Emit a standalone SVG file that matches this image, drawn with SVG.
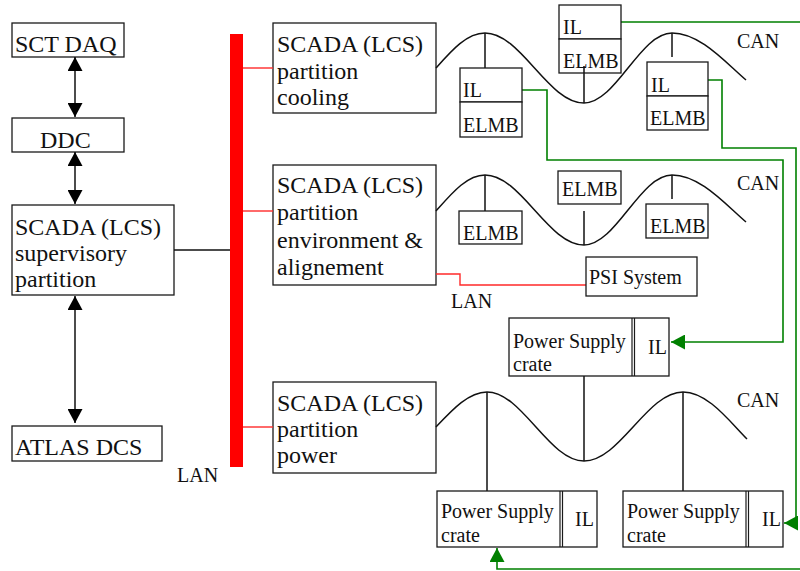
<svg xmlns="http://www.w3.org/2000/svg" width="800" height="571" viewBox="0 0 800 571">
<style>
.box{fill:#fff;stroke:#1a1a1a;stroke-width:1.3}
.t{font-family:"Liberation Serif","Times New Roman",serif;font-size:24px;fill:#111}
.s{font-family:"Liberation Serif","Times New Roman",serif;font-size:20px;fill:#111}
.blk{fill:none;stroke:#111;stroke-width:1.5}
.wave{fill:none;stroke:#111;stroke-width:1.5}
.red{fill:none;stroke:#ff2a2a;stroke-width:1.4}
.grn{fill:none;stroke:#008000;stroke-width:1.6}
.div{stroke:#1a1a1a;stroke-width:1.2}
</style>
<defs>
<marker id="ab" markerUnits="userSpaceOnUse" markerWidth="15" markerHeight="15" refX="14" refY="7.5" orient="auto-start-reverse"><path d="M0,0 L14,7.5 L0,15 z" fill="#000"/></marker>
<marker id="ag" markerUnits="userSpaceOnUse" markerWidth="15" markerHeight="15" refX="14" refY="7.5" orient="auto"><path d="M0,0 L14,7.5 L0,15 z" fill="#008000"/></marker>
</defs>

<rect id="lan-bus" x="230" y="34" width="13" height="433" fill="#ff0000"/>
<text class="s" x="177" y="482">LAN</text>

<g id="sct-daq"><rect class="box" x="12" y="23" width="112" height="34"/><text class="t" x="15" y="52">SCT DAQ</text></g>
<g id="ddc"><rect class="box" x="12" y="118" width="112" height="34"/><text class="t" x="40" y="148">DDC</text></g>
<g id="supervisory"><rect class="box" x="12" y="205" width="162" height="90"/><text class="t" x="15" y="235">SCADA (LCS)</text><text class="t" x="15" y="261">supervisory</text><text class="t" x="15" y="287">partition</text></g>
<g id="atlas-dcs"><rect class="box" x="12" y="426" width="150" height="35"/><text class="t" x="15" y="455">ATLAS DCS</text></g>

<g id="cooling"><rect class="box" x="273" y="23" width="163" height="90"/><text class="t" x="277" y="52">SCADA (LCS)</text><text class="t" x="277" y="79">partition</text><text class="t" x="277" y="105">cooling</text></g>
<g id="environment"><rect class="box" x="273" y="165" width="163" height="120"/><text class="t" x="277" y="193">SCADA (LCS)</text><text class="t" x="277" y="220">partition</text><text class="t" x="277" y="248">environment &amp;</text><text class="t" x="277" y="275">alignement</text></g>
<g id="power"><rect class="box" x="273" y="382" width="163" height="91"/><text class="t" x="277" y="411">SCADA (LCS)</text><text class="t" x="277" y="437">partition</text><text class="t" x="277" y="463">power</text></g>

<g id="connectors">
<line class="blk" x1="75" y1="57" x2="75" y2="117" marker-start="url(#ab)" marker-end="url(#ab)"/>
<line class="blk" x1="75" y1="152" x2="75" y2="204" marker-start="url(#ab)" marker-end="url(#ab)"/>
<line class="blk" x1="75" y1="296" x2="75" y2="423" marker-start="url(#ab)" marker-end="url(#ab)"/>
<line class="blk" x1="174" y1="250" x2="230" y2="250"/>
<line class="red" x1="243" y1="68" x2="273" y2="68"/>
<line class="red" x1="243" y1="211" x2="273" y2="211"/>
<line class="red" x1="243" y1="427" x2="273" y2="427"/>
<path class="red" d="M436,274 H460 V285 H586"/>

<path class="wave" d="M436,68 C452,50 467,33 485,33 C521,33 548,103 584,103 C616,103 640,33 672,33 C700,33 725,62 746,80"/>
<path class="wave" d="M436,211 C452,193 467,175 485,175 C521,175 548,245 584,245 C616,245 640,175 672,175 C700,175 725,204 746,222"/>
<path class="wave" d="M436,427 C453,409 469,392 487,392 C522,392 549,461 584,461 C620,461 647,392 683,392 C708,392 730,422 747,439"/>

<line class="blk" x1="485" y1="33" x2="485" y2="68"/>
<line class="blk" x1="584" y1="66" x2="584" y2="103"/>
<line class="blk" x1="672" y1="33" x2="672" y2="57"/>
<line class="blk" x1="485" y1="175" x2="485" y2="211"/>
<line class="blk" x1="584" y1="211" x2="584" y2="245"/>
<line class="blk" x1="672" y1="175" x2="672" y2="199"/>
<line class="blk" x1="487" y1="392" x2="487" y2="491"/>
<line class="blk" x1="584" y1="376" x2="584" y2="461"/>
<line class="blk" x1="683" y1="392" x2="683" y2="491"/>

<path class="grn" d="M621,22 H803 V569 H497 V548" marker-end="url(#ag)"/>
<path class="grn" d="M522,90 H547 V160 H783 V342 H671" marker-end="url(#ag)"/>
<path class="grn" d="M708,80 H722 V148 H796 V523 H784" marker-end="url(#ag)"/>
</g>

<text class="s" x="737" y="48">CAN</text>
<text class="s" x="737" y="190">CAN</text>
<text class="s" x="737" y="407">CAN</text>
<text class="s" x="451" y="308">LAN</text>

<g id="il-1"><rect class="box" x="460" y="68" width="62" height="34"/><text class="s" x="463" y="97">IL</text></g>
<g id="elmb-1"><rect class="box" x="460" y="102" width="62" height="35"/><text class="s" x="463" y="132">ELMB</text></g>
<g id="il-2"><rect class="box" x="559" y="5" width="62" height="34"/><text class="s" x="563" y="34">IL</text></g>
<g id="elmb-2"><rect class="box" x="559" y="39" width="62" height="34"/><text class="s" x="563" y="68">ELMB</text></g>
<line class="blk" x1="584" y1="66" x2="584" y2="73"/>
<g id="il-3"><rect class="box" x="647" y="62" width="61" height="34"/><text class="s" x="651" y="92">IL</text></g>
<g id="elmb-3"><rect class="box" x="647" y="96" width="61" height="34"/><text class="s" x="650" y="125">ELMB</text></g>

<g id="elmb-4"><rect class="box" x="459" y="211" width="63" height="33"/><text class="s" x="463" y="240">ELMB</text></g>
<g id="elmb-5"><rect class="box" x="558" y="171" width="63" height="33"/><text class="s" x="562" y="196">ELMB</text></g>
<g id="elmb-6"><rect class="box" x="646" y="204" width="62" height="34"/><text class="s" x="650" y="233">ELMB</text></g>
<g id="psi"><rect class="box" x="586" y="257" width="111" height="39"/><text class="s" x="589" y="284">PSI System</text></g>

<g id="ps-1"><rect class="box" x="509" y="318" width="160" height="58"/><line class="div" x1="632" y1="318" x2="632" y2="376"/><line class="div" x1="634.5" y1="318" x2="634.5" y2="376"/><text class="s" x="513" y="348">Power Supply</text><text class="s" x="513" y="371">crate</text><text class="s" x="648" y="354">IL</text></g>
<g id="ps-2"><rect class="box" x="437" y="491" width="160" height="56"/><line class="div" x1="560" y1="491" x2="560" y2="547"/><line class="div" x1="562.5" y1="491" x2="562.5" y2="547"/><text class="s" x="441" y="518">Power Supply</text><text class="s" x="441" y="542">crate</text><text class="s" x="575" y="526">IL</text></g>
<g id="ps-3"><rect class="box" x="623" y="491" width="160" height="56"/><line class="div" x1="746" y1="491" x2="746" y2="547"/><line class="div" x1="748.5" y1="491" x2="748.5" y2="547"/><text class="s" x="627" y="518">Power Supply</text><text class="s" x="627" y="542">crate</text><text class="s" x="762" y="526">IL</text></g>
</svg>
